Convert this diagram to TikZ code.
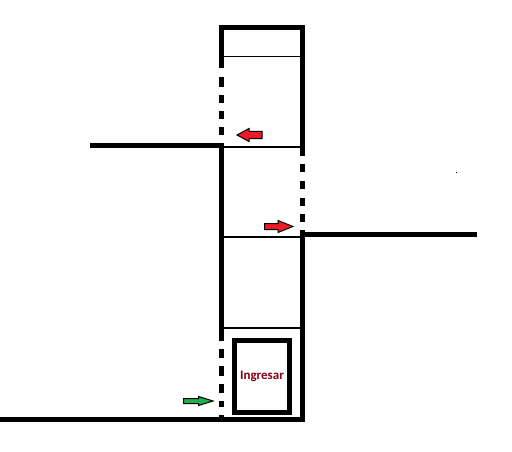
\documentclass[tikz,border=0pt]{standalone}
\usepackage{fontspec}
\setmainfont{Carlito}
\definecolor{arrowred}{HTML}{ED1C24}
\definecolor{arrowgreen}{HTML}{22B14C}
\definecolor{labelred}{HTML}{880015}
\tikzset{
  wall/.style={fill=black,draw=none},
  floorline/.style={draw=black,line width=2pt},
  thinfloor/.style={draw=black,line width=1pt},
  cabin/.style={draw=black,line width=5pt,fill=white,minimum width=55pt,minimum height=72pt,inner sep=0pt,font=\bfseries\fontsize{13pt}{14pt}\selectfont,text=labelred},
  arrowshape/.style={draw=black,line width=1pt,line join=miter}
}
\begin{document}
\begin{tikzpicture}[x=1pt,y=-1pt]
\useasboundingbox (0,0) rectangle (512,452);
\fill[white] (0,0) rectangle (512,452);
% floors
\draw[thinfloor] (224,56.5) -- (300,56.5);
\draw[floorline] (224,147) -- (300,147);
\draw[floorline] (224,237) -- (300,237);
\draw[floorline] (224,328) -- (300,328);
% shaft top
\fill[wall] (219,25) rectangle (305,30);
% left wall
\fill[wall] (219,25) rectangle (224,68.5);
\foreach \a/\b in {77/87,95/103,111/119,127/135,349/358,366/376,384/393,401/407,415/418}
  \fill[wall] (219,\a) rectangle (224,\b);
\fill[wall] (219,143) rectangle (224,341);
% right wall
\fill[wall] (300,25) rectangle (305,156);
\foreach \a/\b in {164/172,181/189,198/206,214/222}
  \fill[wall] (300,\a) rectangle (305,\b);
\fill[wall] (300,230) rectangle (305,422);
% landings
\fill[wall] (90,143) rectangle (224,148);
\fill[wall] (300,232) rectangle (477,237);
\fill[wall] (0,417) rectangle (305,422);
% cabin
\node[cabin] (cab) at (262,376.5) {\raisebox{-1pt}{Ingresar}};
% arrows
\draw[arrowshape,fill=arrowred] (237,135) -- (249,128.5) -- (249,131.5) -- (262,131.5) -- (262,138.5) -- (249,138.5) -- (249,141.5) -- cycle;
\draw[arrowshape,fill=arrowred] (293,226.5) -- (278,220.5) -- (278,223.5) -- (264.5,223.5) -- (264.5,229.5) -- (278,229.5) -- (278,232.5) -- cycle;
\draw[arrowshape,fill=arrowgreen] (213,401) -- (198.5,396.5) -- (198.5,398.5) -- (183.5,398.5) -- (183.5,403.5) -- (198.5,403.5) -- (198.5,405.5) -- cycle;
% speck
\fill[black] (456,171.5) rectangle (457,172.5);
\end{tikzpicture}
\end{document}
